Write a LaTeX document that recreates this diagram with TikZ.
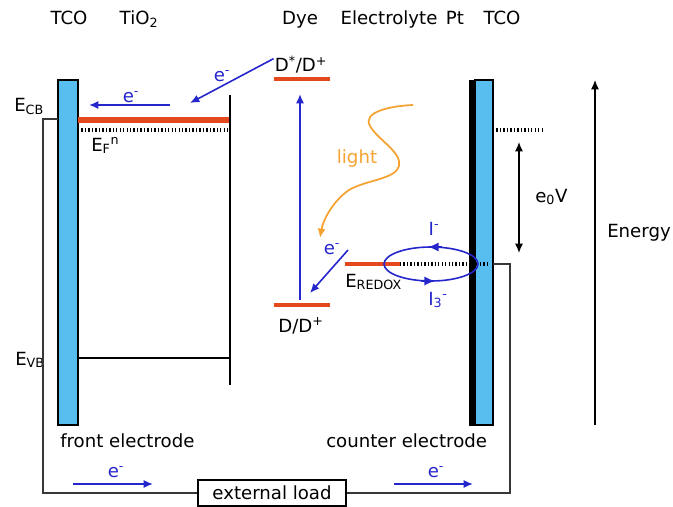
\documentclass[tikz,border=0pt]{standalone}
\usepackage{fontspec}
\setmainfont{DejaVu Sans}
\usepackage{tikz}
\usetikzlibrary{arrows.meta,positioning,calc}
\usepackage{xcolor}
\definecolor{tcoblue}{RGB}{88,190,240}
\definecolor{levelred}{RGB}{230,72,30}
\definecolor{eblue}{RGB}{38,38,205}
\definecolor{lightorange}{RGB}{245,162,48}
\definecolor{wiregray}{RGB}{55,55,55}

\begin{document}
\begin{tikzpicture}[x=0.75pt,y=-0.75pt,
    font=\fontsize{13.6}{15}\selectfont,
    bar/.style={draw=black,line width=0.8pt,fill=tcoblue},
    level/.style={levelred,line width=3pt},
    fermi/.style={line width=2.8pt,dash pattern=on 1pt off 1.6pt},
    wire/.style={wiregray,line width=1.1pt},
    eflow/.style={eblue,line width=1.2pt,-{Latex[length=7pt,width=6pt]}},
    elabel/.style={eblue,inner sep=1pt},
    lbl/.style={inner sep=0pt,anchor=base}]
    \useasboundingbox (0,0) rectangle (673,506);

    % Column headers
    \node[lbl] (hTCOa) at (69,25) {TCO};
    \node[lbl] (hTiO) at (139,25) {TiO\textsubscript{2}};
    \node[lbl] (hDye) at (300,25) {Dye};
    \node[lbl] (hElec) at (389,25) {Electrolyte};
    \node[lbl] (hPt) at (455,25) {Pt};
    \node[lbl] (hTCOb) at (502,25) {TCO};

    % Front electrode (TCO + TiO2)
    \draw[bar] (58,80) rectangle (78,425);
    \coordinate (cbL) at (78,120);
    \coordinate (cbR) at (230,120);
    \draw[level,line width=4pt] (cbL) -- (cbR);
    \draw[fermi] (78,130) -- (230,130);
    \draw[wire,black] (230,95) -- (230,385);
    \draw[wire,black] (78,358) -- (230,358);
    \node[lbl,anchor=base west] (ecb) at (14,112) {E\textsubscript{CB}};
    \node[lbl,anchor=base west] (evb) at (15,365) {E\textsubscript{VB}};
    \node[lbl,anchor=base west] (efn) at (91,151) {E\textsubscript{F}\textsuperscript{n}};
    \node[lbl,anchor=base west] (front) at (60,447) {front electrode};

    % Dye levels
    \coordinate (dsA) at (274,79);
    \coordinate (dsB) at (330,79);
    \coordinate (dgA) at (274,305);
    \coordinate (dgB) at (330,305);
    \draw[level] (dsA) -- (dsB);
    \draw[level] (dgA) -- (dgB);
    \node[lbl] (dstar) at (301,72) {D\textsuperscript{*}/D\textsuperscript{+}};
    \node[lbl] (dground) at (301,332) {D/D\textsuperscript{+}};

    % Counter electrode (Pt + TCO)
    \draw[black,fill=black] (469,80) rectangle (475,425);
    \draw[bar] (475,80) rectangle (493,425);
    \node[lbl,anchor=base west] (counter) at (326,447) {counter electrode};

    % Redox level and shuttle
    \coordinate (rxA) at (345,264);
    \coordinate (rxB) at (400,264);
    \draw[level] (rxA) -- (rxB);
    \draw[fermi] (rxB) -- (487,264);
    \draw[eblue,line width=1.2pt] (431,264) ellipse [x radius=47, y radius=17];
    \draw[eblue,line width=1.2pt,-{Latex[length=8pt,width=7pt]}] (442,247) -- (428,247);
    \draw[eblue,line width=1.2pt,-{Latex[length=8pt,width=7pt]}] (421,281) -- (435,281);
    \node[lbl,anchor=base west] (eredox) at (345,287) {E\textsubscript{REDOX}};
    \node[elabel] (iminus) at (434,229) {I\textsuperscript{-}};
    \node[elabel] (ithree) at (438,300) {I\textsubscript{3}\textsuperscript{-}};

    % Electron transfer
    \coordinate (t1) at (170,105);
    \coordinate (t2) at (89,105);
    \draw[eflow] (t1) -- (t2);
    \node[elabel] (eA) at (131,97) {e\textsuperscript{-}};
    \coordinate (inj) at (190,103);
    \draw[eflow] (dstar.west) ++(-1,-6) -- (inj);
    \node[elabel] (eB) at (222,76) {e\textsuperscript{-}};
    \coordinate (exTop) at (300,94);
    \draw[eflow] (300,300) -- (exTop);
    \coordinate (reg) at (310,293);
    \draw[eflow] (348,250) -- (reg);
    \node[elabel] (eC) at (332,249) {e\textsuperscript{-}};

    % Light
    \draw[lightorange,line width=1.3pt,-{Latex[length=7pt,width=6pt]}]
        (413,105) .. controls (390,106) and (362,112) .. (370,126)
        .. controls (378,140) and (402,152) .. (399,166)
        .. controls (396,179) and (366,180) .. (349,190)
        .. controls (333,201) and (323,220) .. (320,238);
    \node[lightorange,inner sep=0pt] (light) at (357,158) {light};

    % Photovoltage
    \draw[fermi] (493,130) -- (543,130);
    \coordinate (vTop) at (519,142);
    \coordinate (vBot) at (519,253);
    \draw[line width=1pt,{Latex[length=7pt,width=6pt]}-{Latex[length=7pt,width=6pt]}] (vTop) -- (vBot);
    \node[lbl,anchor=base west] (volt) at (535,202) {e\textsubscript{0}V};

    % Energy axis
    \coordinate (enLow) at (595,425);
    \coordinate (enHigh) at (595,80);
    \draw[line width=1pt,-{Latex[length=7pt,width=6pt]}] (enLow) -- (enHigh);
    \node[lbl,anchor=base west] (energy) at (607,237) {Energy};

    % External circuit
    \node[draw=black,line width=1.1pt,minimum width=111pt,minimum height=19.5pt,inner sep=0pt] (load) at (272,493) {external load};
    \draw[wire] (58,119) -- (43,119) -- (43,493) -- (load.west);
    \draw[wire] (load.east) -- (510,493) -- (510,264) -- (493,264);
    \draw[eflow] (73,484) -- (153,484);
    \node[elabel] (eD) at (116,472) {e\textsuperscript{-}};
    \draw[eflow] (394,484) -- (473,484);
    \node[elabel] (eE) at (436,472) {e\textsuperscript{-}};
\end{tikzpicture}
\end{document}
